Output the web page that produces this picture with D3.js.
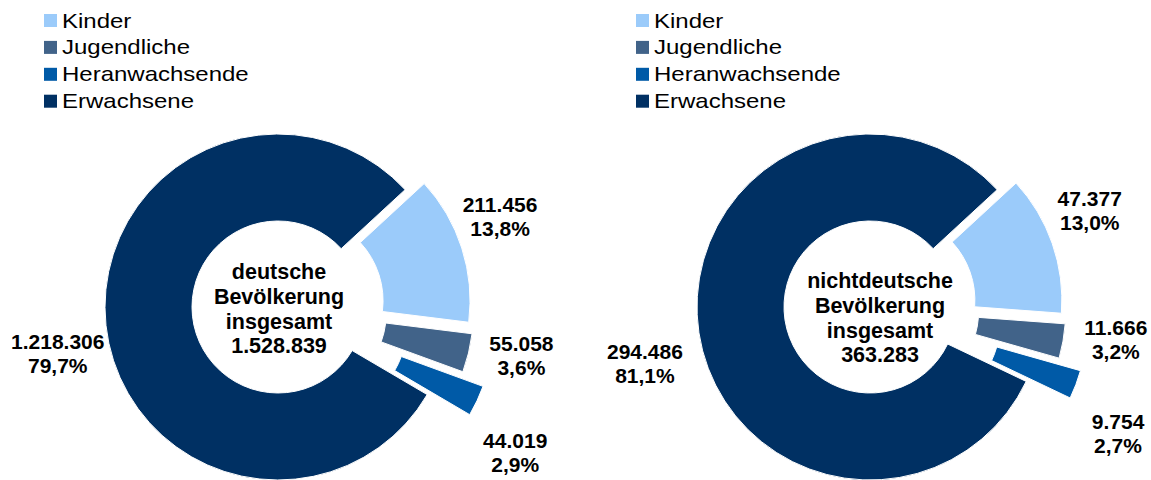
<!DOCTYPE html>
<html>
<head>
<meta charset="utf-8">
<script src="https://cdn.jsdelivr.net/npm/d3@7"></script>
<style>
  html, body { margin: 0; padding: 0; background: #fff; }
  svg { display: block; font-family: "Liberation Sans", Arial, sans-serif; }
</style>
</head>
<body>
<svg id="chart" width="1151" height="480"></svg>
<script>
// data
const categories = ['Kinder', 'Jugendliche', 'Heranwachsende', 'Erwachsene'];
const deutscheValues = [211456, 55058, 44019, 1218306];
const nichtdeutscheValues = [47377, 11666, 9754, 294486];
const centerTitles = [
  ['deutsche', 'Bevölkerung', 'insgesamt'],
  ['nichtdeutsche', 'Bevölkerung', 'insgesamt']
];

const colors = ['#9bcbfa', '#416389', '#005aa7', '#003063'];

// layout
const width = 1151, height = 480;
const outerR = 173, innerR = 86;
const explode = [20, 23, 47, 0];
const firstAngle = 47.3 * Math.PI / 180;
// label nudges: angle offset (deg) from slice middle, distance from center
const labelNudge = [[-4.5, 240], [-2.5, 248], [6.2, 278], [-5.5, 230]];

const charts = [
  { values: deutscheValues, title: centerTitles[0], cx: 278, cy: 307, tx: 1, ty: 2, lx: 5 },
  { values: nichtdeutscheValues, title: centerTitles[1], cx: 870, cy: 307, tx: 10, ty: 11, lx: -2 }
];

const de = d3.formatLocale({ decimal: ',', thousands: '.', grouping: [3], currency: ['', ' €'] });
const fmtNum = de.format(',d');
const fmtPct = de.format('.1%');

const svg = d3.select('#chart');

const pie = d3.pie()
  .sort(null)
  .value(d => d)
  .startAngle(firstAngle)
  .endAngle(firstAngle + 2 * Math.PI);

const arc = d3.arc().innerRadius(innerR).outerRadius(outerR);

charts.forEach(c => {
  const total = d3.sum(c.values);
  const g = svg.append('g').attr('transform', `translate(${c.cx},${c.cy})`);
  const arcs = pie(c.values);

  g.selectAll('path.slice')
    .data(arcs)
    .enter()
    .append('path')
    .classed('slice', true)
    .attr('fill', (d, i) => colors[i])
    .attr('stroke', '#fff')
    .attr('stroke-width', 1)
    .attr('transform', (d, i) => {
      const a = (d.startAngle + d.endAngle) / 2;
      return `translate(${Math.sin(a) * explode[i]},${-Math.cos(a) * explode[i]})`;
    })
    .attr('d', arc);

  // data labels
  const lab = g.selectAll('text.lbl')
    .data(arcs)
    .enter()
    .append('text')
    .classed('lbl', true)
    .attr('text-anchor', 'middle')
    .style('font-size', '21px')
    .style('font-weight', 'bold')
    .attr('fill', '#000')
    .attr('transform', (d, i) => {
      const a = (d.startAngle + d.endAngle) / 2 + labelNudge[i][0] * Math.PI / 180;
      const r = labelNudge[i][1];
      const dx = i === 3 ? c.lx : 0;
      return `translate(${Math.sin(a) * r + dx},${-Math.cos(a) * r})`;
    });
  lab.append('tspan').attr('x', 0).attr('y', -4).text(d => fmtNum(d.value));
  lab.append('tspan').attr('x', 0).attr('y', 20).text(d => fmtPct(d.value / total));

  // center text
  const lines = c.title.concat([fmtNum(total)]);
  g.append('text')
    .attr('text-anchor', 'middle')
    .style('font-size', '21.5px')
    .style('font-weight', 'bold')
    .attr('fill', '#000')
    .selectAll('tspan')
    .data(lines)
    .enter()
    .append('tspan')
    .attr('x', c.tx)
    .attr('y', (d, i) => c.ty - 30 + i * 24.8)
    .text(d => d);

  // legend
  const leg = svg.append('g')
    .attr('transform', `translate(${c.cx - 234},14)`)
    .selectAll('g')
    .data(categories)
    .enter()
    .append('g')
    .attr('transform', (d, i) => `translate(0,${i * 26.9})`);
  leg.append('rect')
    .attr('width', 13)
    .attr('height', 13)
    .attr('fill', (d, i) => colors[i]);
  leg.append('text')
    .attr('transform', 'translate(18,13.5) scale(1.2,1)')
    .style('font-size', '20px')
    .attr('fill', '#000')
    .text(d => d);
});
</script>
</body>
</html>
